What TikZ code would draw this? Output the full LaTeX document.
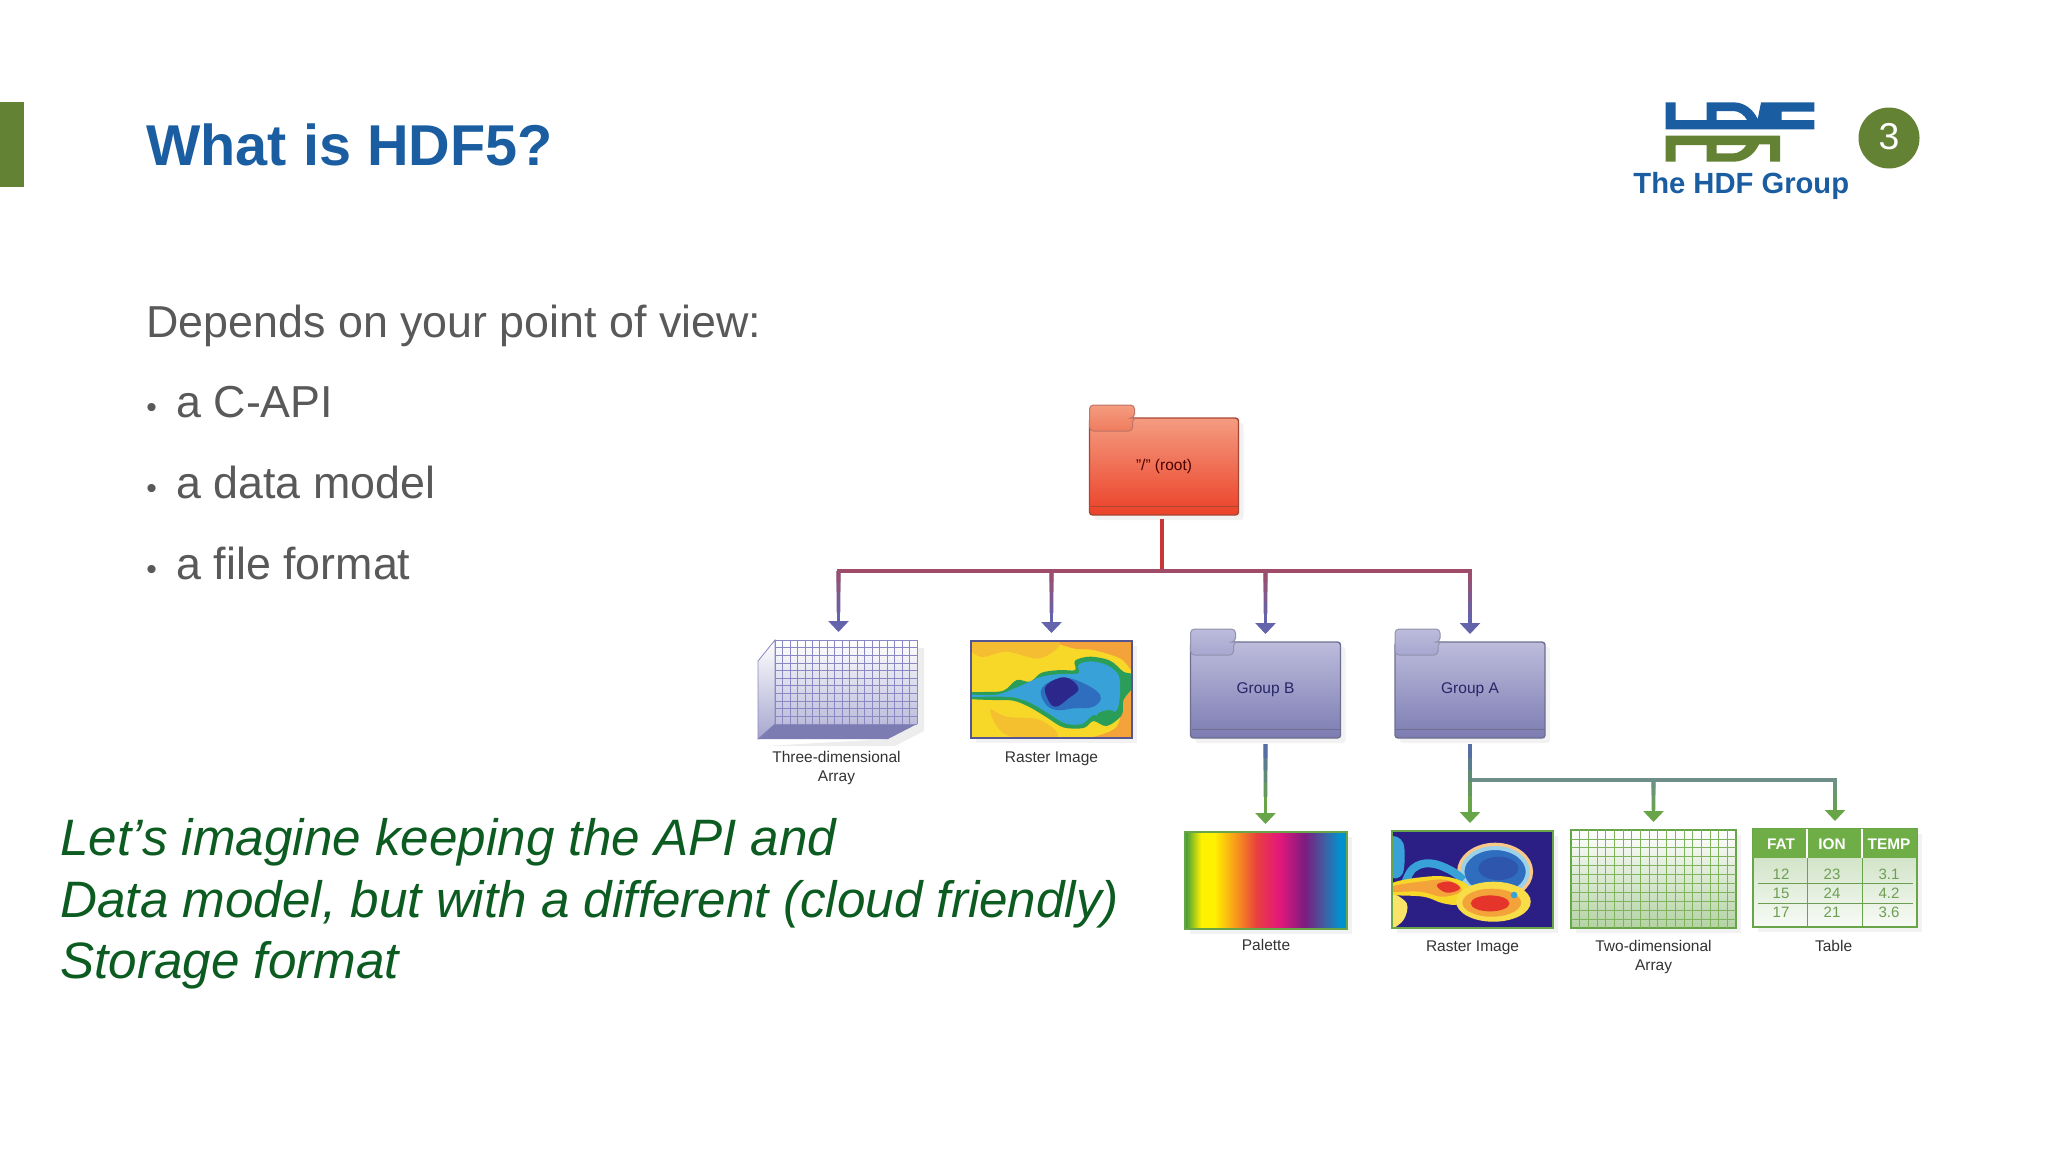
\documentclass[tikz,border=0pt]{standalone}
\usepackage{fontspec}
\setmainfont{Liberation Sans}
\usetikzlibrary{positioning,arrows.meta,calc,shadows}

\definecolor{hdfblue}{HTML}{1A5DA0}
\definecolor{hdfgreen}{HTML}{638233}
\definecolor{bodygray}{HTML}{595959}
\definecolor{notegreen}{HTML}{0C5C22}
\definecolor{capgray}{HTML}{333333}
\definecolor{rootred}{HTML}{C8363A}
\definecolor{busmauve}{HTML}{A04C68}
\definecolor{droppurple}{HTML}{6464AC}
\definecolor{stemblue}{HTML}{5468AE}
\definecolor{branchgray}{HTML}{6E8F87}
\definecolor{leafgreen}{HTML}{68A548}
\definecolor{headgreen}{HTML}{6FAD47}
\definecolor{gridgreen}{HTML}{7FB35E}
\definecolor{gridpurple}{HTML}{8A88C2}
\definecolor{roottop}{HTML}{F49C80}
\definecolor{rootmid}{HTML}{F07C5E}
\definecolor{rootbot}{HTML}{EB4128}
\definecolor{rootrim}{HTML}{A84634}
\definecolor{grouptop}{HTML}{BDBCDC}
\definecolor{groupmid}{HTML}{A6A6CF}
\definecolor{groupbot}{HTML}{7C7CB2}
\definecolor{grouprim}{HTML}{6E6E90}
\definecolor{palgreen}{HTML}{3E9A3A}
\definecolor{palyellow}{HTML}{FFF200}
\definecolor{palorange}{HTML}{F7941D}
\definecolor{palred}{HTML}{E8403F}
\definecolor{palpink}{HTML}{E5177B}
\definecolor{palviolet}{HTML}{7B1C80}
\definecolor{palslate}{HTML}{3F5FA3}
\definecolor{palblue}{HTML}{0092D0}
\definecolor{hotyellow}{HTML}{F7D728}
\definecolor{hotorange}{HTML}{F3A33A}
\definecolor{hotgreen}{HTML}{2A9D58}
\definecolor{hotcyan}{HTML}{38A2D8}
\definecolor{hotblue}{HTML}{2F6DBE}
\definecolor{hotnavy}{HTML}{2B1F85}
\definecolor{hotred}{HTML}{E5342A}

\pgfdeclarehorizontalshading{palettebands}{100bp}{
  color(0bp)=(palgreen); color(25bp)=(palgreen);
  color(30bp)=(palyellow); color(34bp)=(palyellow); color(41bp)=(palorange);
  color(47bp)=(palred); color(54bp)=(palpink);
  color(62bp)=(palviolet); color(68bp)=(palslate); color(73bp)=(palblue);
  color(75bp)=(palblue); color(100bp)=(palblue)}

\newcommand{\fadeline}[4]{\foreach \t/\m in {0.6/22,0.44/45,0.3/68,0.16/88}{
  \draw[fadeseg,draw=#3!\m!#4] (#1) -- ($(#1)!\t!(#2)$);}}

\tikzset{
  softshadow/.style={drop shadow={shadow xshift=2.5pt,shadow yshift=-2.5pt,opacity=.1}},
  titletext/.style={inner sep=0,anchor=base west,text=hdfblue,font=\bfseries\fontsize{28.8}{34}\selectfont},
  bodytext/.style={inner sep=0,anchor=base west,text=bodygray,font=\fontsize{22.4}{27}\selectfont},
  bullettext/.style={inner sep=0,anchor=base west,text=bodygray,font=\fontsize{15}{18}\selectfont},
  notetext/.style={inner sep=0,anchor=north west,align=left,text=notegreen,font=\itshape\fontsize{25.6}{30.75}\selectfont},
  captiontext/.style={inner sep=0,align=center,text=capgray,font=\fontsize{7.75}{9.6}\selectfont},
  folderrim/.style={rectangle,rounded corners=1.5pt,outer sep=0,line width=.7pt,minimum width=75pt,minimum height=48pt,softshadow},
  rootfolder/.style={folderrim,draw=rootrim,top color=roottop,middle color=rootmid,bottom color=rootbot,text=red!30!black,font=\fontsize{7.75}{9}\selectfont},
  groupfolder/.style={folderrim,draw=grouprim,top color=grouptop,middle color=groupmid,bottom color=groupbot,text=blue!30!black!85,font=\fontsize{7.75}{9}\selectfont},
  pictureframe/.style={rectangle,outer sep=0,line width=.7pt,minimum width=80.5pt,minimum height=48.5pt,softshadow},
  gridline/.style={line width=.4pt},
  rootline/.style={rootred,line width=2pt},
  busline/.style={busmauve,line width=1.8pt,line cap=rect},
  dropline/.style={droppurple,line width=1.8pt,-{Triangle[width=10pt,length=5.5pt]},shorten >=4pt},
  greenline/.style={leafgreen,line width=1.8pt,-{Triangle[width=10pt,length=5.5pt]},shorten >=4pt},
  branchline/.style={branchgray,line width=1.8pt,line cap=rect},
  fadeseg/.style={line width=1.8pt},
  tablehead/.style={inner sep=0,text=white,font=\bfseries\fontsize{7.7}{9}\selectfont},
  tablecell/.style={inner sep=0,text=leafgreen!80!gray,font=\fontsize{7.5}{9}\selectfont}
}

\begin{document}
\begin{tikzpicture}[x=0.5pt,y=-0.5pt]
  \useasboundingbox (0,0) rectangle (2048,1152);
  \fill[white] (0,0) rectangle (2048,1152);

  % slide head
  \fill[hdfgreen] (0,102) rectangle (24,187);
  \node[titletext] (slidetitle) at (146,165) {What is HDF5?};

  % logo
  \begin{scope}[shift={(1655,95)},x=0.1667pt,y=-0.1667pt]
    \fill[hdfblue,even odd rule] (32,22) -- (62,22) -- (62,75) -- (155,75) -- (155,22) -- (235,22)
      .. controls (270,22) and (295,45) .. (308,72) -- (318,22) -- (478,22) -- (478,50) -- (380,50)
      -- (380,75) -- (478,75) -- (478,103) -- (32,103) -- cycle
      (185,48) -- (235,48) .. controls (252,48) and (268,60) .. (276,75) -- (185,75) -- cycle;
    \fill[hdfgreen,even odd rule] (32,122) -- (375,122) -- (375,200) -- (345,200) -- (345,148) -- (312,148)
      .. controls (298,178) and (270,200) .. (235,200) -- (155,200) -- (155,150) -- (62,150) -- (62,200)
      -- (32,200) -- cycle
      (185,150) -- (274,150) .. controls (265,165) and (250,175) .. (235,175) -- (185,175) -- cycle;
  \end{scope}
  \node[inner sep=0,anchor=base west,text=hdfblue,font=\bfseries\fontsize{14.6}{17}\selectfont] (logotext) at (1633,193) {The HDF Group};
  \node[circle,fill=hdfgreen,minimum size=30.5pt,inner sep=0,text=white,font=\fontsize{18.7}{22}\selectfont] (pagenum) at (1889,138) {\raisebox{1.5pt}{3}};

  % left hand text
  \node[bodytext] (intro) at (146,337) {Depends on your point of view:};
  \foreach \ty/\tn/\tx in {417/capi/a C-API,498.5/model/a data model,579/format/a file format}{
    \node[bullettext] (dot\tn) at (146,\ty) {•};
    \node[bodytext] (\tn) at (176,\ty) {\tx};
  }
  \node[notetext] (note) at (60,818) {Let’s imagine keeping the API and\\Data model, but with a different (cloud friendly)\\Storage format};

  % folders
  \node[rootfolder,minimum width=74.5pt,minimum height=48.5pt] (root) at (1164,466.5) {"/" (root)};
  \node[groupfolder] (groupb) at (1265.5,690) {Group B};
  \node[groupfolder] (groupa) at (1470,690) {Group A};
  \foreach \fn/\fd/\fa/\fb in {root/rootrim/roottop/rootmid,
    groupb/grouprim/grouptop/groupmid,
    groupa/grouprim/grouptop/groupmid}{
    \draw[draw=\fd!75,line width=.5pt,top color=\fa,bottom color=\fb,rounded corners=2pt]
      ($(\fn.north west)+(0,13)$) -- ++(0,-26) -- ++(45,0) -- ++(0,13) -- ++(-2,0) -- ++(0,13) -- cycle;
    \draw[draw=\fd,line width=.5pt] ($(\fn.south west)+(1,-9)$) -- ($(\fn.south east)+(-1,-9)$);
  }

  % three-dimensional array
  \fill[black,opacity=.07] (765,746) -- (895,746) -- (924,731) -- (924,648) -- (917,648) -- (888,739) -- cycle;
  \shade[top color=white,bottom color=groupmid,draw=gridpurple,line width=.4pt]
    (758,661) -- (775,640) -- (775,724) -- (758,739) -- cycle;
  \shade[top color=white,bottom color=grouptop] (775,640) rectangle (917,724);
  \fill[groupbot] (758,739) -- (775,724) -- (917,724) -- (888,739) -- cycle;
  \foreach \i in {0,...,19} \draw[gridline,gridpurple] ({775+\i*7.474},640) -- ({775+\i*7.474},724);
  \foreach \j in {0,...,11} \draw[gridline,gridpurple] (775,{640+\j*7.64}) -- (917,{640+\j*7.64});
  \node[minimum width=79.5pt,minimum height=49.5pt,inner sep=0,outer sep=0] (arrayc) at (838.5,689.5) {};

  % raster image, upper
  \node[pictureframe,fill=hotyellow] (rasterb) at (1051.5,689.5) {};
  \begin{scope}
    \clip (rasterb.north west) rectangle (rasterb.south east);
    \begin{scope}[shift={(740,620)},x=0.1667pt,y=-0.1667pt]
      \fill[hotorange] plot[smooth cycle,tension=.6] coordinates {(950,60) (1180,60) (1180,150) (1140,115) (1060,90) (1000,85)};
      \fill[hotorange] plot[smooth cycle,tension=.6] coordinates {(1150,215) (1180,225) (1180,360) (1040,360) (1130,320)};
      \fill[hotorange!50!hotyellow] plot[smooth cycle,tension=.6] coordinates {(690,60) (950,60) (900,115) (800,95) (720,110)};
      \fill[hotorange!45!hotyellow] plot[smooth cycle,tension=.6] coordinates {(750,270) (800,290) (900,300) (950,350) (800,345)};
      \fill[hotgreen] plot[smooth cycle,tension=.55] coordinates {(690,218) (730,216) (790,212) (830,180) (870,185) (905,158) (960,150) (1005,150) (1005,122) (1050,110) (1110,122) (1150,155) (1180,165) (1175,205) (1150,240) (1145,285) (1100,318) (1060,303) (1030,324) (970,322) (920,292) (870,262) (820,242) (760,240) (690,236)};
      \fill[hotcyan] plot[smooth cycle,tension=.55] coordinates {(690,224) (770,224) (840,198) (905,170) (965,162) (1015,160) (1015,135) (1050,124) (1100,135) (1135,165) (1140,215) (1130,270) (1090,295) (1060,285) (1025,312) (975,310) (925,280) (870,248) (820,232) (760,230) (690,230)};
      \fill[hotblue] plot[smooth cycle,tension=.7] coordinates {(905,205) (960,175) (1020,185) (1080,225) (1060,260) (1000,265) (950,270) (915,250)};
      \fill[hotnavy!90!hotblue] plot[smooth cycle,tension=.7] coordinates {(920,195) (975,172) (1015,205) (985,235) (945,260) (920,230)};
      \fill[hotgreen] plot[smooth cycle,tension=.7] coordinates {(1070,285) (1110,270) (1130,290) (1100,310)};
    \end{scope}
  \end{scope}
  \draw[droppurple!85!black,line width=.8pt] (rasterb.south west) rectangle (rasterb.north east);

  % palette
  \node[pictureframe,draw=leafgreen,shading=palettebands,minimum width=81pt] (palette) at (1266,880.5) {};

  % raster image, lower
  \node[pictureframe,fill=hotnavy] (rastera) at (1472.5,879.5) {};
  \begin{scope}
    \clip (rastera.north west) rectangle (rastera.south east);
    \begin{scope}[shift={(1160,740)},x=0.1667pt,y=-0.1667pt]
      \fill[hotcyan] plot[smooth cycle,tension=.6] coordinates {(690,295) (730,310) (728,400) (690,405)};
      \fill[hotyellow!70!white] plot[smooth cycle,tension=.6] coordinates {(690,465) (740,490) (730,540) (690,560)};
      \fill[hotblue] (1005,400) ellipse [x radius=105,y radius=85];
      \fill[hotblue!70!hotnavy] (1015,385) ellipse [x radius=60,y radius=35];
      \draw[hotorange!60!white,line width=3pt] (1005,395) ellipse [x radius=105,y radius=78];
      \draw[hotcyan!50!white,line width=2pt] (1005,395) ellipse [x radius=98,y radius=71];
      \draw[hotcyan,line width=4pt] plot[smooth,tension=.7] coordinates {(735,430) (760,385) (810,370) (870,390) (910,420)};
      \fill[hotyellow] plot[smooth cycle,tension=.7] coordinates {(690,432) (780,412) (870,412) (930,445) (900,490) (850,490) (790,470) (690,462)};
      \fill[hotorange] plot[smooth cycle,tension=.7] coordinates {(690,440) (780,425) (860,420) (905,450) (850,470) (780,455) (690,455)};
      \fill[hotred] plot[smooth cycle,tension=.7] coordinates {(830,435) (870,425) (900,445) (860,458)};
      \fill[hotyellow!85!white] (1000,485) ellipse [x radius=112,y radius=60];
      \fill[hotorange] (995,488) ellipse [x radius=88,y radius=42];
      \fill[hotred] (990,490) ellipse [x radius=58,y radius=24];
      \fill[hotcyan] (1062,465) circle [radius=10];
    \end{scope}
  \end{scope}
  \draw[leafgreen,line width=.8pt] (rastera.south west) rectangle (rastera.north east);

  % two-dimensional array
  \node[rectangle,outer sep=0,draw=leafgreen,line width=.7pt,top color=white,bottom color=leafgreen!50!white,minimum width=82.5pt,minimum height=49pt,softshadow] (arrayb) at (1653.5,879) {};
  \foreach \i in {1,...,18} \draw[gridline,gridgreen] ({1571+\i*8.684},830) -- ({1571+\i*8.684},928);
  \foreach \j in {1,...,10} \draw[gridline,gridgreen] (1571,{830+\j*8.91}) -- (1736,{830+\j*8.91});

  % table
  \node[rectangle,outer sep=0,draw=leafgreen,line width=.8pt,top color=leafgreen!40!white,bottom color=leafgreen!5!white,minimum width=82pt,minimum height=49pt,softshadow] (table) at (1835,878) {};
  \fill[headgreen] (table.north west) rectangle (table.east |- 1917,858);
  \draw[white,line width=.6pt] (1807,829) -- (1807,858) (1862,829) -- (1862,858);
  \draw[leafgreen,line width=.5pt] (1807,858) -- (1807,927) (1862,858) -- (1862,927);
  \draw[leafgreen!80!gray,line width=.4pt] (1758,883) -- (1913,883) (1758,903) -- (1913,903);
  \foreach \cx/\hd/\ca/\cb/\cc in {1781/FAT/12/15/17,1832/ION/23/24/21,1889/TEMP/3.1/4.2/3.6}{
    \node[tablehead] (head\hd) at (\cx,844) {\hd};
    \node[tablecell] (a\hd) at (\cx,874) {\ca};
    \node[tablecell] (b\hd) at (\cx,893) {\cb};
    \node[tablecell] (c\hd) at (\cx,912) {\cc};
  }

  % captions
  \node[captiontext,below=6pt of arrayc,xshift=-1pt] (caparrayc) {Three-dimensional\\Array};
  \node[captiontext,below=6.5pt of rasterb] (caprasterb) {Raster Image};
  \node[captiontext,below=5pt of palette] (cappalette) {Palette};
  \node[captiontext,below=6pt of rastera] (caprastera) {Raster Image};
  \node[captiontext,below=6pt of arrayb] (caparrayb) {Two-dimensional\\Array};
  \node[captiontext,below=6.5pt of table,xshift=-.7pt] (captable) {Table};

  % connectors, upper level
  \coordinate (rootbus) at (1162,571);
  \draw[rootline,shorten <=2pt] (root.south -| rootbus) -- (rootbus);
  \draw[busline] (arrayc.north |- rootbus) -- (groupa.north |- rootbus);
  \foreach \n in {arrayc,rasterb,groupb,groupa}{
    \draw[dropline] (\n.north |- rootbus) -- (\n.north);
    \fadeline{\n.north |- rootbus}{\n.north}{busmauve}{droppurple}
  }

  % connectors, lower level
  \coordinate (bstem) at (1265.5,744);
  \coordinate (astem) at (1470,744);
  \coordinate (abranch) at (1470,780);
  \draw[greenline] (bstem) -- (bstem |- palette.north);
  \fadeline{bstem}{bstem |- palette.north}{stemblue}{leafgreen}
  \draw[branchline] (abranch) -- (abranch -| table.north);
  \draw[greenline] (astem) -- (astem |- rastera.north);
  \fadeline{astem}{astem |- rastera.north}{stemblue}{leafgreen}
  \foreach \n in {arrayb,table}{
    \draw[greenline] (\n.north |- abranch) -- (\n.north);
    \fadeline{\n.north |- abranch}{\n.north}{branchgray}{leafgreen}
  }
\end{tikzpicture}
\end{document}
